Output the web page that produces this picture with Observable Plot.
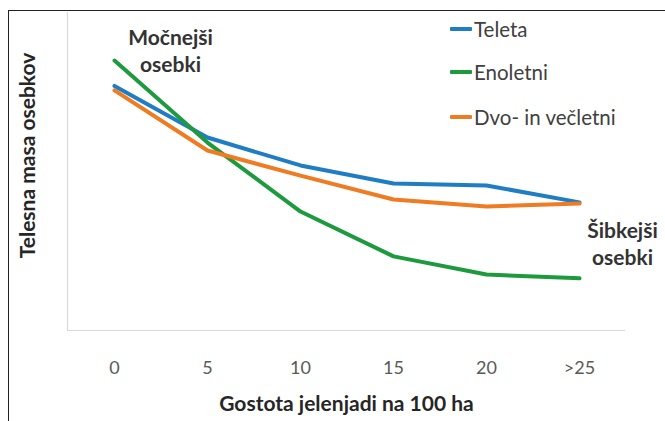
<!DOCTYPE html>
<html>
<head>
<meta charset="utf-8">
<script src="https://cdn.jsdelivr.net/npm/d3@7"></script>
<script src="https://cdn.jsdelivr.net/npm/@observablehq/plot@0.6"></script>
<style>
  html, body { margin: 0; padding: 0; background: #fff; }
  #wrap { position: relative; width: 665px; height: 421px; overflow: hidden; font-family: Lato, "Open Sans", sans-serif; }
  #frame { position: absolute; left: 8px; top: 10px; right: -10px; bottom: -10px; border-top: 1.5px solid #222; border-left: 1.5px solid #222; pointer-events: none; }
  #legend { position: absolute; left: 450px; top: 0; font-size: 20.5px; color: #404040; }
  .item { position: absolute; left: 0; white-space: nowrap; display: flex; align-items: center; }
  .sw { width: 22px; height: 4px; margin-right: 2px; border-radius: 1px; }
</style>
</head>
<body>
<div id="wrap"><div id="chart"></div><div id="legend"></div><div id="frame"></div></div>
<script>
const categories = ["0", "5", "10", "15", "20", ">25"];
const series = ["Teleta", "Enoletni", "Dvo- in večletni"];
const teleta = [76.9, 60.7, 51.9, 46.2, 45.6, 40.3];
const enoletni = [84.9, 59.1, 37.4, 23.3, 17.6, 16.4];
const dvoInVecletni = [75.5, 56.6, 48.7, 41.2, 39.0, 39.9];
const colors = ["#1f7dc4", "#1e9a3e", "#ef7b22"];
const xLabel = "Gostota jelenjadi na 100 ha";
const yLabel = "Telesna masa osebkov";
const noteStrong = "Močnejši\nosebki";
const noteWeak = "Šibkejši\nosebki";

const values = [teleta, enoletni, dvoInVecletni];
const data = series.flatMap((s, i) => categories.map((c, j) => ({series: s, cat: c, value: values[i][j]})));

const font = "Lato, 'Open Sans', sans-serif";
const chart = Plot.plot({
  width: 665,
  height: 421,
  marginLeft: 67,
  marginRight: 40,
  marginTop: 12,
  marginBottom: 91,
  style: {fontFamily: font, background: "transparent"},
  x: {type: "point", domain: categories, padding: 0.5, label: null},
  y: {domain: [0, 100], axis: null},
  color: {domain: series, range: colors},
  marks: [
    Plot.frame({anchor: "left", stroke: "#d9d9d9", strokeWidth: 1.2}),
    Plot.ruleY([0], {stroke: "#d9d9d9", strokeWidth: 1.2}),
    Plot.axisX({tickSize: 0, tickPadding: 31, fontSize: 18, fill: "#595959", label: null}),
    Plot.line(data, {x: "cat", y: "value", stroke: "series", strokeWidth: 4, strokeLinejoin: "round", strokeLinecap: "round"}),
    Plot.text([xLabel], {frameAnchor: "bottom", textAnchor: "middle", dy: 80, lineAnchor: "bottom", fontSize: 21, fontWeight: "bold", fill: "#262626"}),
    Plot.text([yLabel], {frameAnchor: "left", textAnchor: "middle", dx: -39, dy: -16, rotate: -90, fontSize: 21, fontWeight: "bold", fill: "#262626"}),
    Plot.text([noteStrong], {frameAnchor: "top-left", textAnchor: "middle", dx: 103, dy: 13, lineAnchor: "top", lineHeight: 1.3, fontSize: 21, fontWeight: "bold", fill: "#333"}),
    Plot.text([noteWeak], {frameAnchor: "top-right", textAnchor: "middle", dx: -3, dy: 206, lineAnchor: "top", lineHeight: 1.3, fontSize: 21, fontWeight: "bold", fill: "#333"})
  ]
});
document.getElementById("chart").appendChild(chart);

const legend = document.getElementById("legend");
const rowY = [29, 72, 117];
series.forEach((s, i) => {
  const item = document.createElement("div");
  item.className = "item";
  item.style.top = (rowY[i] - 12) + "px";
  item.style.height = "24px";
  const sw = document.createElement("span");
  sw.className = "sw";
  sw.style.background = colors[i];
  const t = document.createElement("span");
  t.textContent = s;
  item.appendChild(sw);
  item.appendChild(t);
  legend.appendChild(item);
});
</script>
</body>
</html>
